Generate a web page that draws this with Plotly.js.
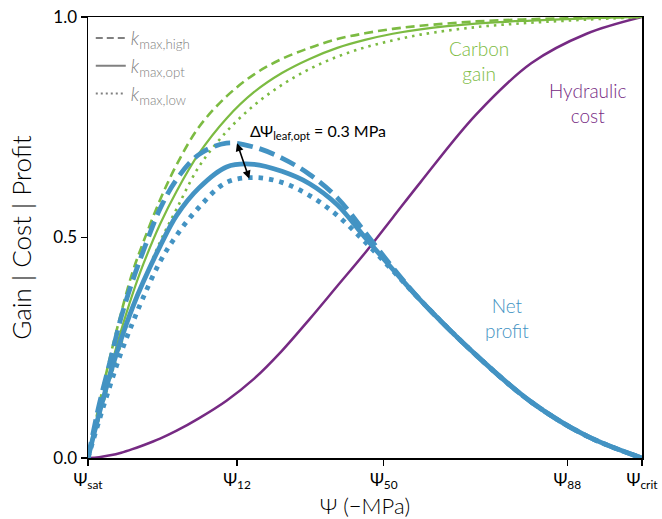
<!DOCTYPE html>
<html>
<head>
<meta charset="utf-8">
<script src="https://cdn.plot.ly/plotly-3.0.1.min.js"></script>
<style>html,body{margin:0;padding:0;background:#fff;}#chart{width:662px;height:519px;}</style>
</head>
<body>
<div id="chart"></div>
<script>
// Water potential axis, expressed as fraction of the span Ψsat → Ψcrit
const psi = [0, 0.02, 0.04, 0.06, 0.08, 0.1, 0.13, 0.16, 0.2, 0.25, 0.3, 0.35, 0.4, 0.45, 0.5, 0.55, 0.6, 0.7, 0.8, 0.9, 1.0];

// Carbon gain
const gainHigh = [0, 0.12, 0.23, 0.33, 0.42, 0.49, 0.585, 0.665, 0.75, 0.82, 0.87, 0.905, 0.93, 0.95, 0.963, 0.973, 0.98, 0.99, 0.995, 0.998, 1.0];
const gainOpt  = [0, 0.10, 0.20, 0.29, 0.37, 0.44, 0.53, 0.605, 0.69, 0.77, 0.83, 0.873, 0.905, 0.93, 0.948, 0.962, 0.972, 0.985, 0.992, 0.997, 1.0];
const gainLow  = [0, 0.09, 0.18, 0.26, 0.34, 0.40, 0.49, 0.565, 0.66, 0.74, 0.80, 0.846, 0.882, 0.91, 0.931, 0.947, 0.96, 0.977, 0.987, 0.994, 1.0];

// Hydraulic cost
const cost = [0, 0.002, 0.006, 0.012, 0.02, 0.029, 0.044, 0.062, 0.09, 0.13, 0.18, 0.243, 0.315, 0.39, 0.465, 0.545, 0.625, 0.778, 0.895, 0.962, 1.0];

// Net profit
const profitHigh = [0, 0.12, 0.22, 0.32, 0.40, 0.47, 0.565, 0.632, 0.688, 0.714, 0.705, 0.68, 0.643, 0.59, 0.512, 0.432, 0.358, 0.234, 0.127, 0.05, 0];
const profitOpt  = [0, 0.10, 0.19, 0.27, 0.34, 0.40, 0.48, 0.55, 0.612, 0.66, 0.666, 0.65, 0.622, 0.574, 0.50, 0.428, 0.358, 0.234, 0.127, 0.05, 0];
const profitLow  = [0, 0.085, 0.165, 0.24, 0.305, 0.365, 0.445, 0.505, 0.568, 0.625, 0.636, 0.625, 0.595, 0.55, 0.49, 0.425, 0.358, 0.234, 0.127, 0.05, 0];

// Tick labels
const tickPos = [0, 0.269, 0.534, 0.865, 1.0];
const tickText = ['Ψ<sub>sat</sub>', 'Ψ<sub>12</sub>', 'Ψ<sub>50</sub>', 'Ψ<sub>88</sub>', 'Ψ<sub>crit</sub>'];
const legendNames = ['<i>k</i><sub>max,high</sub>', '<i>k</i><sub>max,opt</sub>', '<i>k</i><sub>max,low</sub>'];

// Arrow for ΔΨ annotation: [x tip, y tip, x tail, y tail]
const arrowPts = [0.269, 0.714, 0.292, 0.630];

const GREEN = '#7cbb42', BLUE = '#4393c3', PURPLE = '#762a83', GREY = '#808080';

const traces = [
  {x: psi, y: cost, mode: 'lines', line: {color: PURPLE, width: 2.5, shape: 'spline'}, showlegend: false},
  {x: psi, y: gainHigh, mode: 'lines', line: {color: GREEN, width: 2.6, dash: '9px,5px', shape: 'spline'}, showlegend: false},
  {x: psi, y: gainOpt, mode: 'lines', line: {color: GREEN, width: 2.2, shape: 'spline'}, showlegend: false},
  {x: psi, y: gainLow, mode: 'lines', line: {color: GREEN, width: 2.6, dash: '2.5px,5px', shape: 'spline'}, showlegend: false},
  {x: psi, y: profitHigh, mode: 'lines', line: {color: BLUE, width: 4.8, dash: '16px,7px', shape: 'spline'}, showlegend: false},
  {x: psi, y: profitOpt, mode: 'lines', line: {color: BLUE, width: 4.8, shape: 'spline'}, showlegend: false},
  {x: psi, y: profitLow, mode: 'lines', line: {color: BLUE, width: 4.8, dash: '4.5px,6px', shape: 'spline'}, showlegend: false},
  {x: [null], y: [null], mode: 'lines', name: legendNames[0], line: {color: GREY, width: 2, dash: '7px,4px'}},
  {x: [null], y: [null], mode: 'lines', name: legendNames[1], line: {color: GREY, width: 2}},
  {x: [null], y: [null], mode: 'lines', name: legendNames[2], line: {color: GREY, width: 2, dash: '2px,3px'}}
];

const layout = {
  width: 662, height: 519,
  margin: {l: 88, r: 20, t: 17, b: 61},
  paper_bgcolor: '#fff', plot_bgcolor: '#fff',
  font: {family: 'Lato, sans-serif', color: '#000', weight: 300},
  showlegend: true,
  legend: {x: 0.005, y: 0.995, xanchor: 'left', yanchor: 'top', bgcolor: 'rgba(0,0,0,0)',
           font: {size: 19, color: GREY, weight: 300}, tracegroupgap: 0, itemwidth: 30},
  xaxis: {range: [0, 1], showgrid: false, zeroline: false, showline: true, linecolor: '#000', linewidth: 1.5,
          mirror: true, ticks: 'outside', ticklen: 6, tickwidth: 1.2, tickcolor: '#000',
          tickvals: tickPos, ticktext: tickText, tickfont: {size: 17, weight: 400},
          title: {text: 'Ψ (−MPa)', font: {size: 22, weight: 300}, standoff: 11}},
  yaxis: {range: [0, 1], showgrid: false, zeroline: false, showline: true, linecolor: '#000', linewidth: 1.5,
          mirror: true, ticks: 'outside', ticklen: 6, tickwidth: 1.2, tickcolor: '#000',
          tickvals: [0, 0.5, 1], tickformat: '.1f', tickfont: {size: 17, weight: 400},
          title: {text: 'Gain | Cost | Profit', font: {size: 26, weight: 300}, standoff: 14}},
  annotations: [
    {x: 0.705, y: 0.9, xref: 'x', yref: 'y', text: 'Carbon<br>gain', showarrow: false,
     font: {size: 19, color: GREEN, weight: 300}, align: 'center'},
    {x: 0.902, y: 0.805, xref: 'x', yref: 'y', text: 'Hydraulic<br>cost', showarrow: false,
     font: {size: 19, color: PURPLE, weight: 300}, align: 'center'},
    {x: 0.756, y: 0.318, xref: 'x', yref: 'y', text: 'Net<br>profit', showarrow: false,
     font: {size: 19, color: BLUE, weight: 300}, align: 'center'},
    {x: 0.289, y: 0.74, xref: 'x', yref: 'y', xanchor: 'left', text: 'ΔΨ<sub>leaf,opt</sub> = 0.3 MPa', showarrow: false,
     font: {size: 16, color: '#000', weight: 400}},
    {x: arrowPts[0], y: arrowPts[1], ax: arrowPts[2], ay: arrowPts[3], xref: 'x', yref: 'y', axref: 'x', ayref: 'y',
     text: '', showarrow: true, arrowhead: 2, startarrowhead: 2, arrowside: 'end+start', arrowwidth: 1.6,
     arrowsize: 1, startarrowsize: 1, arrowcolor: '#000', standoff: 0, startstandoff: 0}
  ]
};

Plotly.newPlot('chart', traces, layout, {displayModeBar: false, staticPlot: true});
</script>
</body>
</html>
